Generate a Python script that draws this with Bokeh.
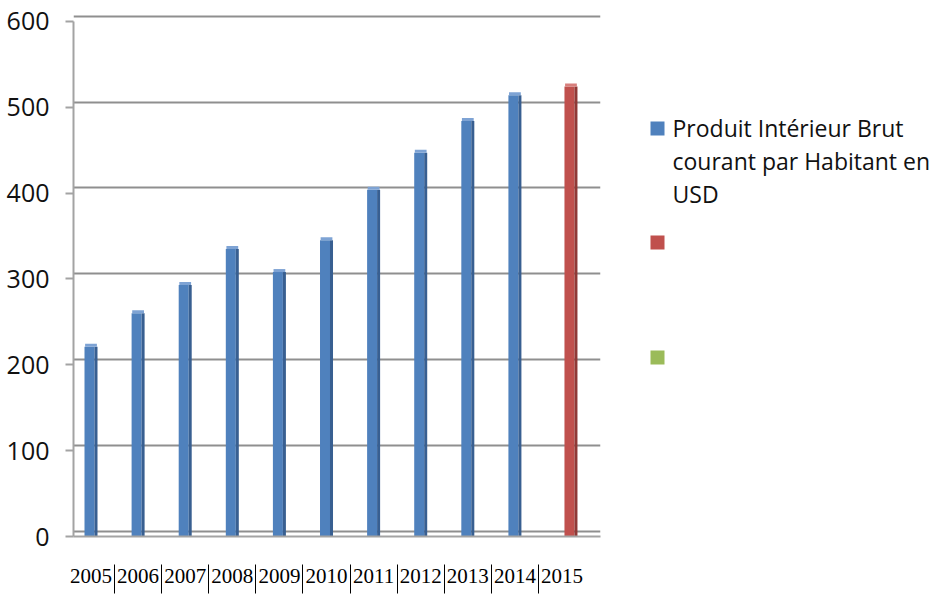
from bokeh.plotting import figure
from bokeh.layouts import row
from bokeh.models import Range1d, FixedTicker
from bokeh.core.properties import value
from bokeh.embed import file_html
from bokeh.resources import INLINE

# --- data -------------------------------------------------------------
years = ["2005", "2006", "2007", "2008", "2009", "2010",
         "2011", "2012", "2013", "2014", "2015"]
# GDP per capita (current USD), 2005-2014
pib_hab = [221, 260, 293, 335, 308, 345, 404, 447, 484, 514]
# second series: 2015 only
pib_2015 = [524]
y_ticks = [0, 100, 200, 300, 400, 500, 600]
legend_labels = ["Produit Intérieur Brut\ncourant par Habitant en\nUSD", "", ""]
series_colors = ["#4f81bd", "#c0504d", "#9bbb59"]
side_colors = ["#385f91", "#8f3936", "#748c42"]
cap_colors = ["#7ea3d4", "#d77f7c", "#b5cf80"]

GRAY = "#a3a3a3"
TOP, BOTTOM = 14, 63   # borders around the plotting frame (px)

# --- main chart ---------------------------------------------------------
p = figure(width=605, height=599, output_backend="svg", toolbar_location=None,
           x_range=Range1d(-0.3716, 10.817), y_range=Range1d(0, 608),
           min_border_left=73, min_border_right=5,
           min_border_top=TOP, min_border_bottom=BOTTOM)
p.outline_line_color = None
p.background_fill_color = "white"
p.border_fill_color = "white"

# back wall sits a little higher than the front axis
p.extra_y_ranges = {"wall": Range1d(-6, 602)}
p.xgrid.visible = False
p.ygrid.y_range_name = "wall"
p.ygrid.ticker = FixedTicker(ticks=y_ticks)
p.ygrid.grid_line_color = "#8f8f8f"
p.ygrid.grid_line_width = 2


def column_3d(xs, tops, k):
    """Front face, darker side face and a thin top cap for one series."""
    p.vbar(x=[x - 0.032 for x in xs], top=tops, bottom=0, width=0.212,
           fill_color=series_colors[k], line_color=None)
    p.vbar(x=[x + 0.106 for x in xs], top=tops, bottom=0, width=0.064,
           fill_color=side_colors[k], line_color=None)
    p.vbar(x=[x + 0.0 for x in xs], top=[v + 3.5 for v in tops], bottom=tops,
           width=0.25, fill_color=cap_colors[k], line_color=None)


column_3d(list(range(len(pib_hab))), pib_hab, 0)
# 2015 sits to the right of its slot
column_3d([len(years) - 1 + 0.19], pib_2015, 1)

# y axis
p.yaxis.ticker = FixedTicker(ticks=y_ticks)
p.yaxis.bounds = (0, 600)
p.yaxis.axis_line_color = GRAY
p.yaxis.axis_line_width = 2
p.yaxis.major_tick_line_color = GRAY
p.yaxis.major_tick_line_width = 2
p.yaxis.major_tick_out = 8
p.yaxis.major_tick_in = 0
p.yaxis.minor_tick_line_color = None
p.yaxis.major_label_text_font = "Open Sans"
p.yaxis.major_label_text_font_size = "25px"
p.yaxis.major_label_text_color = "#111111"
p.yaxis.major_label_standoff = 16

# x axis: year labels with thin separators between them
p.xaxis.ticker = FixedTicker(ticks=list(range(len(years))),
                             minor_ticks=[i + 0.5 for i in range(len(years) - 1)])
p.xaxis.major_label_overrides = {i: y for i, y in enumerate(years)}
p.xaxis.axis_line_color = GRAY
p.xaxis.axis_line_width = 2
p.xaxis.major_tick_line_color = None
p.xaxis.major_tick_out = 0
p.xaxis.major_tick_in = 0
p.xaxis.minor_tick_line_color = "#000000"
p.xaxis.minor_tick_line_width = 1
p.xaxis.minor_tick_in = -28
p.xaxis.minor_tick_out = 57
p.xaxis.major_label_text_font = "Liberation Serif"
p.xaxis.major_label_text_font_size = "21px"
p.xaxis.major_label_text_color = "#000000"
# labels are measured from the end of the longest tick
p.xaxis.major_label_standoff = -25

# --- legend panel -------------------------------------------------------
# its frame lines up with the chart frame, so the y range spans the same pixels
leg = figure(width=333, height=599, output_backend="svg", toolbar_location=None,
             x_range=Range1d(0, 333), y_range=Range1d(599 - BOTTOM, TOP),
             min_border_left=0, min_border_right=0,
             min_border_top=TOP, min_border_bottom=BOTTOM)
leg.outline_line_color = None
leg.axis.visible = False
leg.grid.visible = False

entry_y = [128, 242, 357]
leg.rect(x=[52] * len(legend_labels), y=entry_y, width=14, height=14,
         fill_color=series_colors, line_color=None)

line_gap = 33
for label, ey in zip(legend_labels, entry_y):
    lines = label.split("\n") if label else []
    if not lines:
        continue
    leg.text(x=[67] * len(lines), y=[ey - 1 + i * line_gap for i in range(len(lines))],
             text=lines, text_font=value("Open Sans"), text_font_size="23px",
             text_color="#111111", text_baseline="alphabetic", text_align="left")

layout = row(p, leg)
open("out.html", "w").write(file_html(layout, INLINE))
